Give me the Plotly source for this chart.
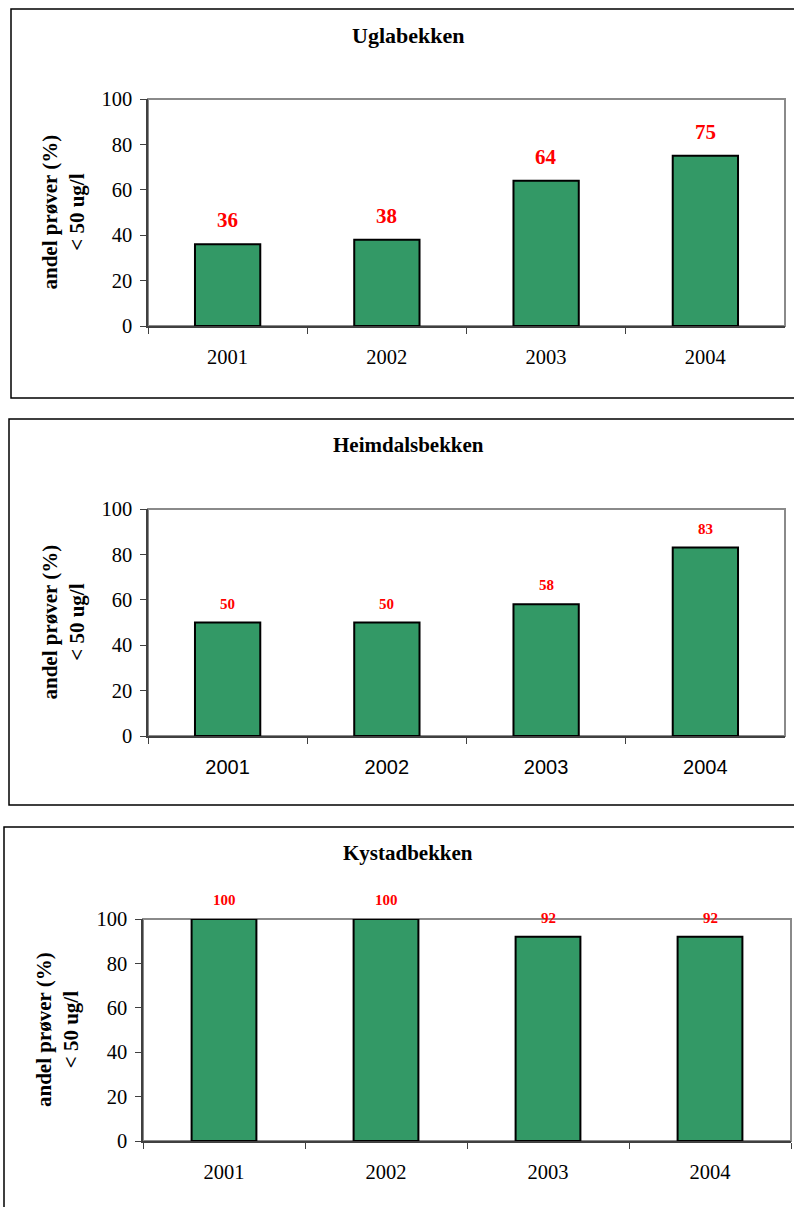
import plotly.graph_objects as go

years = ["2001", "2002", "2003", "2004"]
titles = ["Uglabekken", "Heimdalsbekken", "Kystadbekken"]
uglabekken = [36, 38, 64, 75]
heimdalsbekken = [50, 50, 58, 83]
kystadbekken = [100, 100, 92, 92]
series = [uglabekken, heimdalsbekken, kystadbekken]
y_title = "andel prøver (%)<br>< 50 ug/l"

W, H = 794, 1207
SERIF = "Liberation Serif, Times New Roman, serif"
SANS = "Liberation Sans, Arial, sans-serif"
GREEN = "#339966"

# layout (pixels): plot area left, right, top, bottom; panel frame; title y; y-title x
panels = [
    dict(l=148, r=785, t=99, b=326, frame=(11, 9, 800, 398), ty=36, yt=63,
         xfont=SERIF, xsize=20.5, tsize=22, lab_size=21, lab_shift=24, bw=0.41),
    dict(l=148, r=785, t=509, b=736, frame=(9, 419, 800, 805), ty=445, yt=63,
         xfont=SANS, xsize=20, tsize=21, lab_size=15, lab_shift=19, bw=0.41),
    dict(l=143, r=791, t=919, b=1141, frame=(4, 827, 800, 1215), ty=853, yt=57,
         xfont=SERIF, xsize=20.5, tsize=21, lab_size=15, lab_shift=19, bw=0.40),
]

def px_x(v):
    return v / W

def px_y(v):
    return 1 - v / H

fig = go.Figure()
shapes = []
annotations = []

for i, (p, vals, title) in enumerate(zip(panels, series, titles)):
    n = "" if i == 0 else str(i + 1)
    xa, ya = "x" + n, "y" + n
    fig.add_trace(go.Bar(
        x=years, y=vals, xaxis=xa, yaxis=ya, width=p["bw"],
        marker=dict(color=GREEN, line=dict(color="black", width=2)),
        showlegend=False, hoverinfo="skip",
    ))
    fig.layout["xaxis" + n] = dict(
        domain=[px_x(p["l"]), px_x(p["r"])], anchor=ya, type="category",
        categoryorder="array", categoryarray=years,
        range=[-0.5, len(years) - 0.5], autorange=False,
        tickson="boundaries", ticks="outside", ticklen=6, tickcolor="#404040",
        showline=True, linecolor="#404040", linewidth=1.5, showgrid=False,
        tickfont=dict(family=p["xfont"], size=p["xsize"], color="black"),
        ticklabelstandoff=12, fixedrange=True, zeroline=False, tickangle=0,
    )
    fig.layout["yaxis" + n] = dict(
        domain=[px_y(p["b"]), px_y(p["t"])], anchor=xa, range=[0, 100],
        autorange=False,
        dtick=20, ticks="outside", ticklen=6, tickcolor="#404040",
        showline=True, linecolor="#404040", linewidth=1.5, showgrid=False,
        zeroline=False, tickfont=dict(family=SERIF, size=20.5, color="black"),
        ticklabelstandoff=4, fixedrange=True,
    )
    # gray plot-area border (top and right)
    shapes.append(dict(type="rect", xref=xa + " domain", yref=ya + " domain",
                       x0=0, x1=1, y0=0, y1=1, line=dict(color="#8a8a8a", width=2),
                       layer="below"))
    # panel frame
    fx0, fy0, fx1, fy1 = p["frame"]
    shapes.append(dict(type="rect", xref="paper", yref="paper",
                       x0=px_x(fx0), x1=px_x(fx1), y0=px_y(fy1), y1=px_y(fy0),
                       line=dict(color="black", width=1.5)))
    # title
    annotations.append(dict(text="<b>" + title + "</b>", xref="paper", yref="paper",
                            x=px_x(408), y=px_y(p["ty"]), showarrow=False,
                            xanchor="center", yanchor="middle",
                            font=dict(family=SERIF, size=p["tsize"], color="black")))
    # y axis title
    annotations.append(dict(text="<b>" + y_title + "</b>", xref="paper", yref="paper",
                            x=px_x(p["yt"]), y=px_y((p["t"] + p["b"]) / 2),
                            showarrow=False, textangle=-90,
                            xanchor="center", yanchor="middle",
                            font=dict(family=SERIF, size=21, color="black")))
    # data labels
    for k, v in enumerate(vals):
        annotations.append(dict(text="<b>%d</b>" % v, xref=xa, yref=ya, x=k, y=v,
                                showarrow=False, yshift=p["lab_shift"],
                                xanchor="center", yanchor="middle",
                                font=dict(family=SERIF, size=p["lab_size"], color="red")))

fig.update_layout(
    width=W, height=H, margin=dict(l=0, r=0, t=0, b=0, pad=0, autoexpand=False),
    paper_bgcolor="white", plot_bgcolor="white",
    shapes=shapes, annotations=annotations,
)

fig.write_html("out.html", config={"displayModeBar": False},
               post_script="document.body.style.margin='0';document.body.style.overflow='hidden';")
